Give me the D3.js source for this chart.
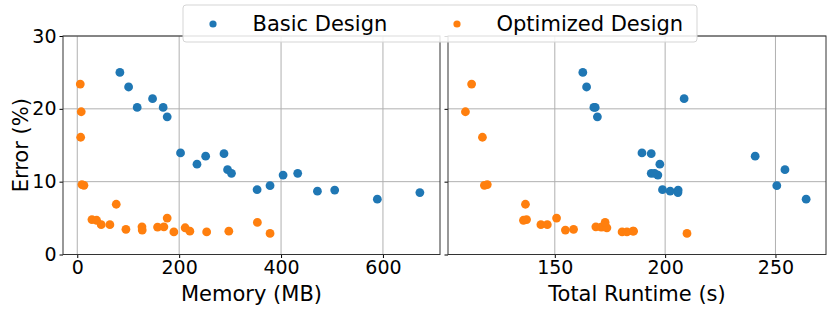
<!DOCTYPE html>
<html>
<head>
<meta charset="utf-8">
<title>Error vs memory and runtime</title>
<script src="https://d3js.org/d3.v7.min.js"></script>
<style>
  body { margin: 0; background: #fff; }
  svg text { font-family: "DejaVu Sans", sans-serif; fill: #000; }
</style>
</head>
<body>
<div id="chart"></div>
<script>
// error (%) for each run, with its memory use and total runtime
var basicErr     = [25.0, 23.0, 20.2, 21.4, 20.2, 18.9, 13.95, 12.4, 13.5, 13.85, 11.65, 11.15, 8.9, 9.45, 10.9, 11.15, 8.7, 8.85, 7.6, 8.5];
var basicMemory  = [83.7, 100.8, 117.6, 147.8, 168.6, 176.5, 202.7, 235, 252, 288, 295, 302.7, 353, 378.4, 404, 432.7, 471.4, 505.3, 589, 672.5];
var basicRuntime = [162.7, 164.4, 167.7, 208.6, 168.3, 169.3, 189.5, 197.6, 240.8, 193.7, 254.3, 193.7, 198.8, 250.6, 196.7, 195.2, 202.3, 205.9, 263.9, 205.8];

var optErr     = [23.4, 19.6, 16.1, 9.6, 9.5, 6.9, 4.8, 4.7, 4.1, 4.1, 3.45, 3.8, 3.35, 3.77, 3.8, 5.0, 3.1, 3.67, 3.2, 3.1, 3.2, 4.4, 2.9];
var optMemory  = [5.9, 7.8, 6.7, 9.2, 13.1, 76.5, 28.8, 38, 47, 64, 95.5, 127, 127.5, 157.6, 170, 176.5, 189.6, 211.8, 221, 254, 297.5, 353.5, 378.4];
var optRuntime = [112.3, 109.5, 117.2, 119.4, 118.1, 136.7, 137.2, 135.8, 143.7, 146.6, 158.5, 168.6, 154.8, 171, 172, 150.8, 180.5, 173.6, 185.4, 182.7, 185.7, 172.8, 209.9];

var errTicks = [0, 10, 20, 30];
var memTicks = [0, 200, 400, 600];
var timeTicks = [150, 200, 250];
var seriesNames = ["Basic Design", "Optimized Design"];
var colors = ["#1f77b4", "#ff7f0e"];

var W = 830, H = 312;
var plotTop = 36, plotBottom = 254.5;

var svg = d3.select("#chart").append("svg")
  .attr("width", W).attr("height", H);

var y = d3.scaleLinear().domain([0, 30]).range([plotBottom, plotTop]);

var panels = [
  { x0: 63, x1: 440, domain: [-28, 712], ticks: memTicks, label: "Memory (MB)",
    series: [basicMemory, optMemory], yLabels: true },
  { x0: 448, x1: 826, domain: [101.6, 272.9], ticks: timeTicks, label: "Total Runtime (s)",
    series: [basicRuntime, optRuntime], yLabels: false }
];
var errs = [basicErr, optErr];

panels.forEach(function (p) {
  var x = d3.scaleLinear().domain(p.domain).range([p.x0, p.x1]);
  var g = svg.append("g");

  // grid
  g.selectAll(".vgrid").data(p.ticks).enter().append("line")
    .attr("x1", function (d) { return x(d); }).attr("x2", function (d) { return x(d); })
    .attr("y1", plotTop).attr("y2", plotBottom)
    .attr("stroke", "#b0b0b0").attr("stroke-width", 1);
  g.selectAll(".hgrid").data(errTicks).enter().append("line")
    .attr("x1", p.x0).attr("x2", p.x1)
    .attr("y1", function (d) { return y(d); }).attr("y2", function (d) { return y(d); })
    .attr("stroke", "#b0b0b0").attr("stroke-width", 1);

  // points
  p.series.forEach(function (xs, si) {
    g.selectAll(".pt" + si).data(xs).enter().append("circle")
      .attr("cx", function (d) { return x(d); })
      .attr("cy", function (d, i) { return y(errs[si][i]); })
      .attr("r", 4.4)
      .attr("fill", colors[si]);
  });

  // axes
  var xAxis = d3.axisBottom(x).tickValues(p.ticks).tickSize(3.5).tickPadding(3);
  var xg = g.append("g").attr("transform", "translate(0," + plotBottom + ")").call(xAxis);
  xg.select(".domain").remove();
  xg.selectAll("text").style("font-size", "19px");

  var yAxis = d3.axisLeft(y).tickValues(errTicks).tickSize(3.5).tickPadding(3);
  if (!p.yLabels) yAxis.tickFormat("");
  var yg = g.append("g").attr("transform", "translate(" + p.x0 + ",0)").call(yAxis);
  yg.select(".domain").remove();
  yg.selectAll("text").style("font-size", "19px");

  // frame
  g.append("rect")
    .attr("x", p.x0).attr("y", plotTop)
    .attr("width", p.x1 - p.x0).attr("height", plotBottom - plotTop)
    .attr("fill", "none").attr("stroke", "#333").attr("stroke-width", 1);

  g.append("text")
    .attr("x", (p.x0 + p.x1) / 2).attr("y", 300.5)
    .attr("text-anchor", "middle")
    .style("font-size", "21px")
    .text(p.label);
});

svg.append("text")
  .attr("transform", "translate(28," + ((plotTop + plotBottom) / 2) + ") rotate(-90)")
  .attr("text-anchor", "middle")
  .style("font-size", "21px")
  .text("Error (%)");

// legend
var leg = svg.append("g");
leg.append("rect")
  .attr("x", 183).attr("y", 5).attr("width", 514).attr("height", 37)
  .attr("rx", 3).attr("fill", "#fff").attr("fill-opacity", 0.85)
  .attr("stroke", "#d5d5d5").attr("stroke-width", 1);
var legX = [213, 457];
seriesNames.forEach(function (name, i) {
  leg.append("circle").attr("cx", legX[i]).attr("cy", 24).attr("r", 3.6).attr("fill", colors[i]);
  leg.append("text").attr("x", legX[i] + 39.5).attr("y", 31)
    .style("font-size", "21px").text(name);
});
</script>
</body>
</html>
